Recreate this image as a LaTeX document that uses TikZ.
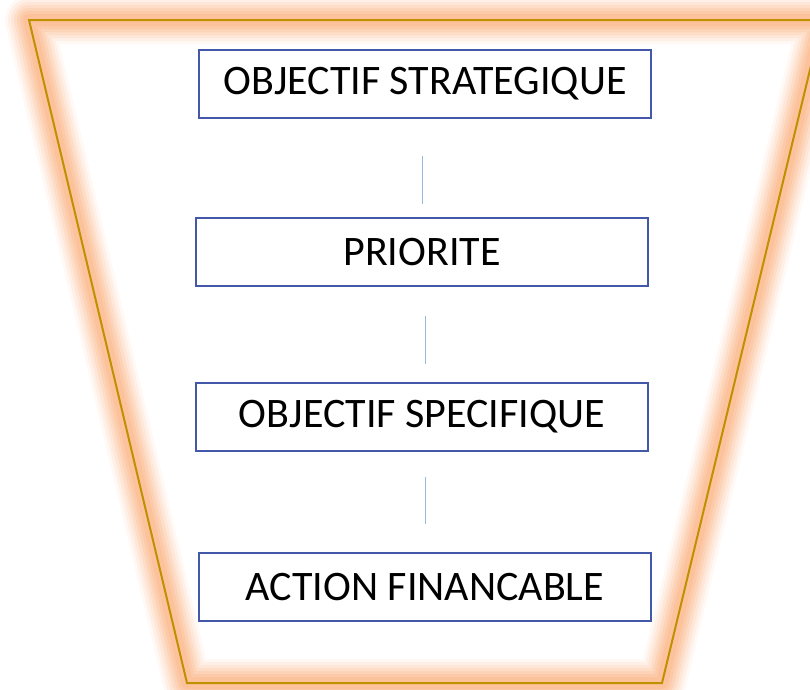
\documentclass[tikz,border=0pt]{standalone}
\usepackage{fontspec}
\setmainfont{Carlito}
\definecolor{glow}{RGB}{250,170,115}
\definecolor{gold}{RGB}{191,144,0}
\definecolor{boxblue}{RGB}{68,88,170}
\definecolor{linkblue}{RGB}{150,185,220}

\begin{document}
\begin{tikzpicture}[x=1pt,y=-1pt,
    niveau/.style={draw=boxblue,line width=1.5pt,fill=white,minimum width=452pt,
      minimum height=68pt,inner sep=0pt,font=\fontsize{42}{46}\selectfont},
    lien/.style={draw=linkblue,line width=1pt}]
    \useasboundingbox (0,0) rectangle (810,689);
    \coordinate (TL) at (29,20);
    \coordinate (TR) at (822,20);
    \coordinate (BR) at (662,683);
    \coordinate (BL) at (187,683);
    
    % halo autour du trapeze
    \foreach \w/\o in {48/0.08,42/0.1,36/0.13,30/0.16,24/0.2,18/0.22,12/0.25}
      \draw[glow,line width=\w pt,opacity=\o,line join=round] (TL)--(TR)--(BR)--(BL)--cycle;
    \draw[gold,line width=2pt] (TL)--(TR)--(BR)--(BL)--cycle;
    
    \node[niveau] (strat) at (425,84) {OBJECTIF STRATEGIQUE};
    \node[niveau] (prio) at (422,252) {PRIORITE};
    \node[niveau] (spec) at (422,417) {OBJECTIF SPECIFIQUE};
    \node[niveau] (action) at (425,587) {ACTION FINANCABLE};
    
    \draw[lien,shorten <=37pt,shorten >=13pt] (strat.south -| 422,0)--(prio.north -| 422,0);
    \draw[lien,shorten <=29pt,shorten >=18pt] (prio.south -| 425,0)--(spec.north -| 425,0);
    \draw[lien,shorten <=25pt,shorten >=28pt] (spec.south -| 425,0)--(action.north -| 425,0);
\end{tikzpicture}
\end{document}
